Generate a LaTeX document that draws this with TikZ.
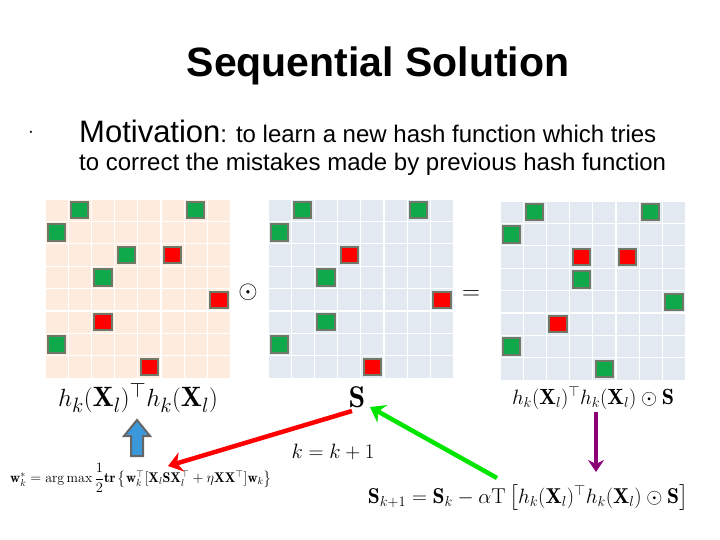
\documentclass[tikz,border=0pt]{standalone}
\usepackage{amsmath,amssymb}
\usepackage{fontspec}
\newfontfamily\sansf{Liberation Sans}
\usetikzlibrary{arrows.meta}
\definecolor{peach}{HTML}{FDEBDD}
\definecolor{bluegray}{HTML}{E3E9F1}
\definecolor{gcell}{HTML}{0FA84A}
\definecolor{rcell}{HTML}{FF0000}
\definecolor{bord}{HTML}{707868}
\tikzset{
 cellbg/.style={fill=#1,draw=white,line width=1.2pt},
 gbox/.style={fill=gcell,draw=bord,line width=2pt},
 rbox/.style={fill=rcell,draw=bord,line width=2pt},
 lbl/.style={inner sep=0pt},
}
\newcommand{\grid}[4]{% x0, y0 (top), bg, list
 \foreach \i in {0,...,7}{\foreach \j in {0,...,7}{
   \path[cellbg=#3] (#1+\i*23.2,-#2-\j*22.4) rectangle ++(23.2,-22.4);}}
 \foreach \c/\r/\t in {#4}{
   \path[\t] (#1+\c*23.2+3,-#2-\r*22.4-3) rectangle ++(17.2,-16.4);}
}
\begin{document}
\begin{tikzpicture}[x=1pt,y=1pt]
\useasboundingbox (0,0) rectangle (720,-540);
\node[lbl,font=\sansf\bfseries\fontsize{41}{46}\selectfont] (title) at (378,-66) {Sequential Solution};
\node[lbl] (dot) at (31,-133) {\sansf\fontsize{20}{20}\selectfont$\cdot$};
\node[lbl,anchor=west] (mot) at (79,-131) {\sansf\fontsize{31}{36}\selectfont Motivation\fontsize{24}{28}\selectfont: to learn a new hash function which tries};
\node[lbl,anchor=west] (mot2) at (79,-164) {\sansf\fontsize{24}{28}\selectfont to correct the mistakes made by previous hash function};
\grid{45}{199}{peach}{1/0/gbox,6/0/gbox,0/1/gbox,3/2/gbox,2/3/gbox,0/6/gbox,5/2/rbox,7/4/rbox,2/5/rbox,4/7/rbox}
\grid{268}{199}{bluegray}{1/0/gbox,6/0/gbox,0/1/gbox,3/2/rbox,2/3/gbox,7/4/rbox,2/5/gbox,0/6/gbox,4/7/rbox}
\grid{500}{201}{bluegray}{1/0/gbox,6/0/gbox,0/1/gbox,3/2/rbox,5/2/rbox,3/3/gbox,7/4/gbox,2/5/rbox,0/6/gbox,4/7/gbox}
\node[lbl] (odot) at (248,-292) {\fontsize{26}{26}\selectfont$\odot$};
\node[lbl] (eq) at (471,-295) {\fontsize{30}{30}\selectfont$=$};
\node[lbl] (hh) at (138,-398) {\fontsize{28}{28}\selectfont$h_k(\mathbf{X}_l)^{\top}h_k(\mathbf{X}_l)$};
\node[lbl] (S) at (357,-397) {\fontsize{30}{30}\selectfont$\mathbf{S}$};
\node[lbl] (hhs) at (593,-398) {\fontsize{22}{22}\selectfont$h_k(\mathbf{X}_l)^{\top}h_k(\mathbf{X}_l)\odot\mathbf{S}$};
\node[lbl] (kk) at (333,-452) {\fontsize{21}{21}\selectfont$k=k+1$};
\node[lbl] (w) at (141,-478) {\fontsize{14}{14}\selectfont$\mathbf{w}_k^{*}=\arg\max\dfrac{1}{2}\mathbf{tr}\left\{\mathbf{w}_k^{\top}[\mathbf{X}_l\mathbf{S}\mathbf{X}_l^{\top}+\eta\mathbf{X}\mathbf{X}^{\top}]\mathbf{w}_k\right\}$};
\node[lbl] (upd) at (528,-498) {\fontsize{21.5}{21.5}\selectfont$\mathbf{S}_{k+1}=\mathbf{S}_k-\alpha\mathrm{T}\left[h_k(\mathbf{X}_l)^{\top}h_k(\mathbf{X}_l)\odot\mathbf{S}\right]$};
\draw[draw=gray!80!black,fill=cyan!70!blue!80,line width=2pt]
 (131,-456) -- (143,-456) -- (143,-436) -- (150,-436) -- (137,-420) -- (124,-436) -- (131,-436) -- cycle;
\coordinate (rs) at (352,-411);
\coordinate (re) at (168,-466);
\draw[red,line width=4.5pt,-{Stealth[length=14pt,width=20pt]}] (rs) -- (re);
\coordinate (gs) at (497,-478);
\coordinate (ge) at (370,-407);
\draw[green!90!black,line width=4.5pt,-{Stealth[length=14pt,width=20pt]}] (gs) -- (ge);
\coordinate (ps) at (596,-412);
\coordinate (pe) at (596,-472);
\draw[violet!80!purple,line width=3.5pt,-{Stealth[length=12pt,width=16pt]}] (ps) -- (pe);
\end{tikzpicture}
\end{document}
